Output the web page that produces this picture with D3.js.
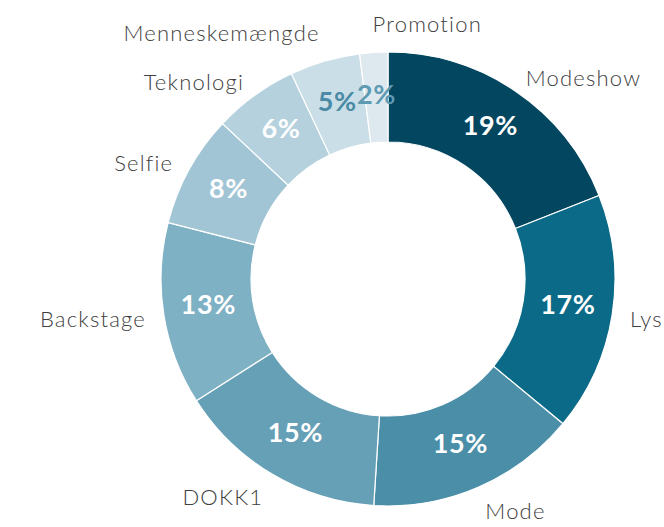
<!DOCTYPE html>
<html>
<head>
<meta charset="utf-8">
<script src="https://cdn.jsdelivr.net/npm/d3@7"></script>
<style>
  body { margin: 0; background: #fff; }
  #chart text { font-family: Lato, "Open Sans", sans-serif; font-variant-ligatures: none; }
</style>
</head>
<body>
<div id="chart"></div>
<script>
// data
const categories = ["Modeshow", "Lys", "Mode", "DOKK1", "Backstage", "Selfie", "Teknologi", "Menneskemængde", "Promotion"];
const shares = [19, 17, 15, 15, 13, 8, 6, 5, 2];
const colors = ["#03465f", "#0b6a87", "#4a8ea8", "#66a0b6", "#7fb1c4", "#a1c5d4", "#b4d1dd", "#c9dee7", "#dde9ef"];
const pctColors = ["#fff", "#fff", "#fff", "#fff", "#fff", "#fff", "#fff", "#4a8aa5", "#5e9ab2"];

const width = 664;
const height = 527;
const cx = 388, cy = 279;
const outerR = 227, innerR = 137;

const data = categories.map((c, i) => ({ name: c, value: shares[i], i: i }));

const svg = d3
  .select("#chart")
  .append("svg")
  .attr("width", width)
  .attr("height", height);

const g = svg.append("g").attr("transform", "translate(" + cx + "," + cy + ")");

const pie = d3.pie().value((d) => d.value).sort(null);
const arc = d3.arc().innerRadius(innerR).outerRadius(outerR);
const labelArc = d3.arc().innerRadius(245).outerRadius(245);

const arcs = pie(data);

g.selectAll("path")
  .data(arcs)
  .enter()
  .append("path")
  .attr("d", arc)
  .attr("fill", (d) => colors[d.data.i])
  .attr("stroke", "#fff")
  .attr("stroke-width", 1.2);

// percentages inside the ring
g.selectAll("text.pct")
  .data(arcs)
  .enter()
  .append("text")
  .attr("class", "pct")
  .attr("transform", function (d) {
    const p = arc.centroid(d);
    return "translate(" + p[0] + "," + (p[1] - 3) + ")";
  })
  .attr("dy", "0.36em")
  .attr("text-anchor", "middle")
  .attr("font-size", 27)
  .attr("font-weight", "bold")
  .attr("letter-spacing", 0.6)
  .attr("fill", (d) => pctColors[d.data.i])
  .text((d) => d.data.value + "%");

// category names outside
g.selectAll("text.lbl")
  .data(arcs)
  .enter()
  .append("text")
  .attr("class", "lbl")
  .attr("transform", function (d) {
    const p = labelArc.centroid(d);
    const mid = (d.startAngle + d.endAngle) / 2;
    // top labels sit a bit higher, bottom ones a bit lower
    const c = Math.cos(mid);
    const shift = c > 0.9 ? -10 : c < -0.8 ? 7 : 2;
    return "translate(" + p[0] + "," + (p[1] + shift) + ")";
  })
  .attr("dy", "0.35em")
  .attr("text-anchor", (d) => (labelArc.centroid(d)[0] > -20 ? "start" : "end"))
  .attr("font-size", 22)
  .attr("font-weight", 300)
  .attr("letter-spacing", 1.2)
  .attr("fill", "#404040")
  .text((d) => d.data.name);
</script>
</body>
</html>
